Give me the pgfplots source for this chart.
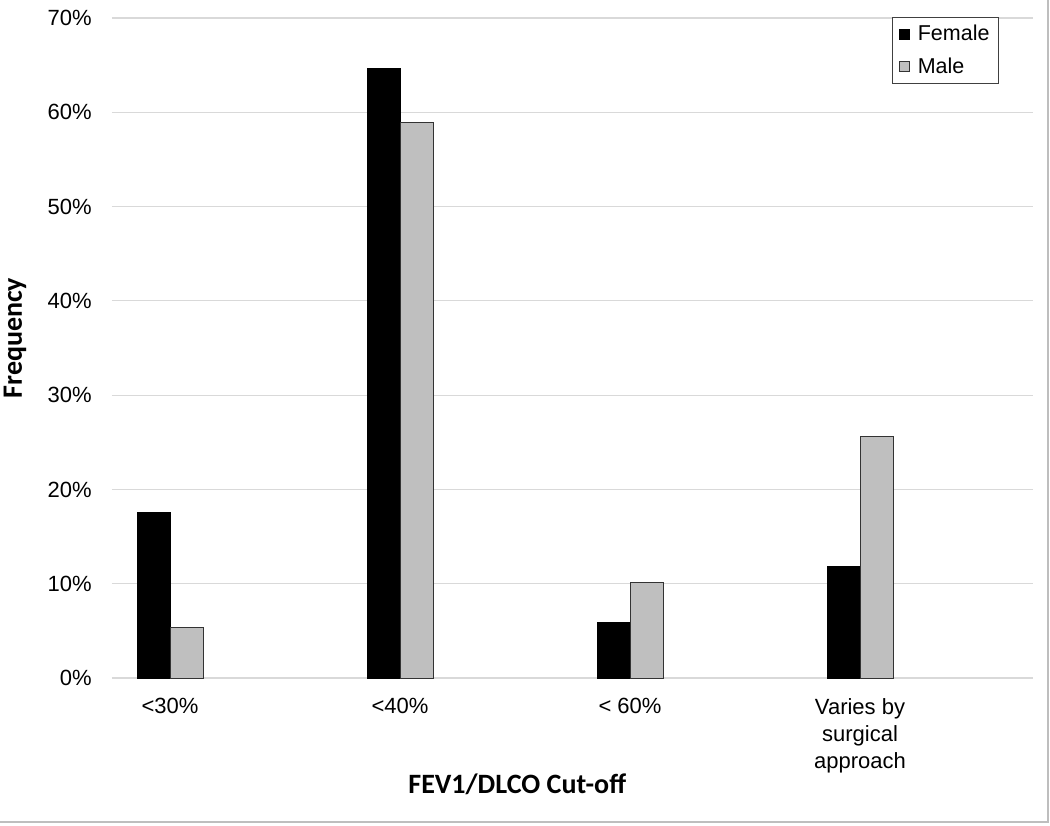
\documentclass[border=0pt]{standalone}
\usepackage{fontspec}
\setmainfont{Liberation Sans}
\newfontfamily\calibri{Carlito}
\usepackage{pgfplots}
\pgfplotsset{compat=1.18}
\definecolor{gridgray}{RGB}{217,217,217}
\definecolor{malegray}{RGB}{191,191,191}
\definecolor{framegray}{RGB}{190,190,190}

\begin{document}
\begin{tikzpicture}
\useasboundingbox (-56pt,-73.5pt) rectangle (469pt,339pt);
\begin{axis}[
    scale only axis,
    width=460.5pt, height=330pt,
    ybar=0pt, bar width=0.1435,
    xmin=-0.2522, xmax=3.752,
    ymin=0, ymax=70,
    axis line style={draw=none},
    major tick length=0pt,
    ymajorgrids=true,
    grid style={gridgray, line width=0.6pt},
    ytick={0,10,...,70},
    yticklabels={0\%,10\%,20\%,30\%,40\%,50\%,60\%,70\%},
    xtick={0,1,2,3},
    xticklabels={<30\%,<40\%,< 60\%,Varies by\\surgical\\approach},
    tick label style={font=\fontsize{11}{13.6}\selectfont},
    yticklabel style={inner sep=0pt, anchor=east, xshift=-10pt},
    xticklabel style={inner sep=0pt, anchor=north, align=center, yshift=-10pt},
    xlabel={FEV1/DLCO Cut-off},
    ylabel={Frequency},
    xlabel style={font=\calibri\bfseries\fontsize{14}{16}\selectfont,
        at={(axis description cs:0.44,0)}, anchor=center, yshift=-53pt},
    ylabel style={font=\calibri\bfseries\fontsize{14}{16}\selectfont,
        at={(axis description cs:-0.1053,0.515)}, anchor=center},
    legend style={at={(rel axis cs:1,1)}, anchor=north east,
        xshift=-17pt, yshift=0.5pt, draw=black!75, line width=0.5pt,
        font=\fontsize{10.75}{12}\selectfont, row sep=5pt,
        nodes={inner sep=1pt},
        inner xsep=3.5pt, inner ysep=2.8pt},
    legend cell align=left,
    legend image code/.code={
        \path[draw=none, fill=none] (0pt,0pt) -- (8pt,0pt);
        \draw[#1] (0pt,-2.5pt) rectangle (5pt,2.5pt);},
]
\addplot[fill=black, draw=black, line width=0.5pt]
    coordinates {(0,17.6) (1,64.6) (2,5.9) (3,11.8)};
\addlegendentry{Female}
\addplot[fill=malegray, draw=black!80, line width=0.5pt]
    coordinates {(0,5.4) (1,58.9) (2,10.1) (3,25.6)};
\addlegendentry{Male}
\end{axis}
\draw[framegray, line width=0.6pt] (468pt,339pt) -- (468pt,-72pt) -- (-56pt,-72pt);
\end{tikzpicture}
\end{document}
